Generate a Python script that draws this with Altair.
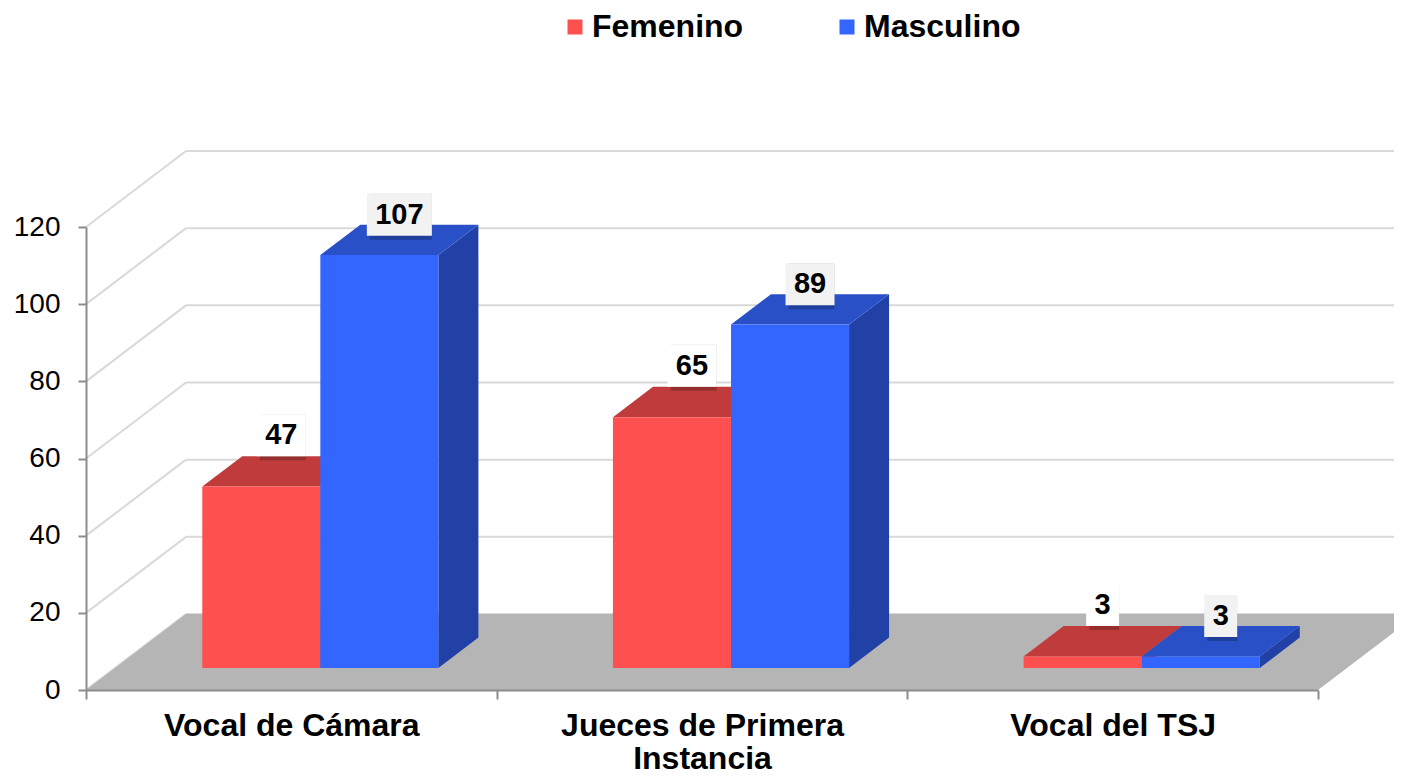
import json
import altair as alt
import pandas as pd

# ---------------- data ----------------
categories = ["Vocal de Cámara", "Jueces de Primera\nInstancia", "Vocal del TSJ"]
series = ["Femenino", "Masculino"]
femenino = [47, 65, 3]
masculino = [107, 89, 3]
y_ticks = [0, 20, 40, 60, 80, 100, 120]

# ---------------- layout / style constants ----------------
W, H = 1232, 463
X_MAX, Y_MAX = len(categories), 120
PX_X = W / X_MAX
PX_Y = H / Y_MAX
DEPTH_X = 100 / PX_X          # floor depth, in x units
DEPTH_Y = 76 / PX_Y           # floor depth, in y units
F0, F1 = 0.29, 0.69           # bar depth span (fraction of floor depth)
BAR_W = 0.2875                # bar width (category units)
FONT = "Liberation Sans, Arial, sans-serif"
front_colors = ["#FF5050", "#3366FF"]
top_colors = ["#C03C3C", "#2A50C8"]
side_colors = ["#A83232", "#2141A6"]
box_colors = ["#FFFFFF", "#F2F2F2"]
label_drop_px = [0, 11]
GRID = "#D9D9D9"
AXIS = "#8C8C8C"

values = [femenino, masculino]
front, top, side, boxes = [], [], [], []
for k, cat in enumerate(categories):
    for s, name in enumerate(series):
        v = values[s][k]
        bar = f"{k}-{s}"
        left = k + 0.5 + (s - 1) * BAR_W
        right = left + BAR_W
        front.append(dict(serie=name, bar=bar, x=left + F0 * DEPTH_X, x2=right + F0 * DEPTH_X,
                          y=F0 * DEPTH_Y, y2=v + F0 * DEPTH_Y))
        for f in (F0, F1):
            top.append(dict(bar=bar, fill=top_colors[s], y=v + f * DEPTH_Y,
                            x=left + f * DEPTH_X, x2=right + f * DEPTH_X))
            side.append(dict(bar=bar, fill=side_colors[s], x=right + f * DEPTH_X,
                             y=f * DEPTH_Y, y2=v + f * DEPTH_Y))
        cx = (left + right) / 2 + (F0 + F1) / 2 * DEPTH_X
        bw = (16 * len(str(v)) + 17) / PX_X
        bh = 42 / PX_Y
        yb = v + F1 * DEPTH_Y - label_drop_px[s] / PX_Y
        boxes.append(dict(bar=bar, fill=box_colors[s], x=cx - bw / 2, x2=cx + bw / 2,
                          y=yb, y2=yb + bh, ym=yb + bh / 2, cx=cx, text=str(v)))

front_df = pd.DataFrame(front)
top_df = pd.DataFrame(top)
side_df = pd.DataFrame(side)
box_df = pd.DataFrame(boxes)

grid_back = pd.DataFrame({"y": [t + DEPTH_Y for t in y_ticks],
                          "x": [DEPTH_X] * len(y_ticks),
                          "x2": [X_MAX + 0.4] * len(y_ticks)})
grid_diag = pd.DataFrame({"x": [0.0] * len(y_ticks), "x2": [DEPTH_X] * len(y_ticks),
                          "y": y_ticks, "y2": [t + DEPTH_Y for t in y_ticks]})
floor_df = pd.DataFrame({"y": [0, DEPTH_Y], "x": [0, DEPTH_X],
                         "x2": [X_MAX, X_MAX + DEPTH_X]})

xs = alt.Scale(domain=[0, X_MAX], nice=False, zero=False)
ys = alt.Scale(domain=[0, Y_MAX], nice=False, zero=False)

lines = [c.split("\n") for c in categories]
label_expr = json.dumps(lines, ensure_ascii=False) + "[floor(datum.value)]"

axis_ticks = alt.Axis(values=list(range(X_MAX + 1)), labels=False, ticks=True, tickSize=9,
                      tickColor=AXIS, tickWidth=2, domainColor=AXIS, domainWidth=2,
                      grid=False, title=None, orient="bottom", zindex=1)
axis_labels = alt.Axis(values=[k + 0.5 for k in range(X_MAX)], domain=False, ticks=False,
                       grid=False, title=None, orient="bottom", labelExpr=label_expr,
                       labelFontSize=32, labelFontWeight="bold", labelFont=FONT,
                       labelColor="black", labelPadding=20, labelLineHeight=33,
                       labelBaseline="top", labelFlush=False, labelOverlap=False,
                       labelLimit=500, zindex=1)
y_axis = alt.Axis(values=y_ticks, grid=False, title=None, orient="left",
                  domainColor=AXIS, domainWidth=2,
                  tickColor=AXIS, tickWidth=2, tickSize=8, labelFontSize=28,
                  labelFont=FONT, labelColor="black", labelPadding=18, zindex=1)

g_back = alt.Chart(grid_back).mark_rule(color=GRID, strokeWidth=2).encode(
    x=alt.X("x:Q", scale=xs, axis=axis_ticks), x2="x2:Q",
    y=alt.Y("y:Q", scale=ys, axis=y_axis))
g_diag = alt.Chart(grid_diag).mark_rule(color=GRID, strokeWidth=2).encode(
    x=alt.X("x:Q", scale=xs, axis=None), x2="x2:Q",
    y=alt.Y("y:Q", scale=ys, axis=None), y2="y2:Q")
floor = alt.Chart(floor_df).mark_area(orient="horizontal", color="#B5B5B5", opacity=1).encode(
    y=alt.Y("y:Q", scale=ys, axis=None),
    x=alt.X("x:Q", scale=xs, axis=axis_labels), x2="x2:Q")
sides = alt.Chart(side_df).mark_area(orient="vertical", opacity=1).encode(
    x=alt.X("x:Q", scale=xs, axis=None),
    y=alt.Y("y:Q", scale=ys, axis=None), y2="y2:Q",
    fill=alt.Fill("fill:N", scale=None), detail="bar:N")
tops = alt.Chart(top_df).mark_area(orient="horizontal", opacity=1).encode(
    y=alt.Y("y:Q", scale=ys, axis=None),
    x=alt.X("x:Q", scale=xs, axis=None), x2="x2:Q",
    fill=alt.Fill("fill:N", scale=None), detail="bar:N")
fronts = alt.Chart(front_df).mark_rect(opacity=1).encode(
    x=alt.X("x:Q", scale=xs, axis=None), x2="x2:Q",
    y=alt.Y("y:Q", scale=ys, axis=None), y2="y2:Q",
    color=alt.Color("serie:N", scale=alt.Scale(domain=series, range=front_colors),
                    legend=alt.Legend(title=None, orient="none", direction="horizontal",
                                      legendX=473, legendY=-216, symbolType="square",
                                      symbolSize=225, symbolStrokeWidth=0,
                                      labelFontSize=32, labelFontWeight="bold",
                                      labelFont=FONT, labelColor="black", labelOffset=1,
                                      columnPadding=87, padding=0, labelLimit=400)))
shadows = alt.Chart(box_df).mark_rect(color="black", opacity=0.22, xOffset=3, yOffset=4).encode(
    x=alt.X("x:Q", scale=xs, axis=None), x2="x2:Q",
    y=alt.Y("y:Q", scale=ys, axis=None), y2="y2:Q")
label_boxes = alt.Chart(box_df).mark_rect(opacity=1).encode(
    x=alt.X("x:Q", scale=xs, axis=None), x2="x2:Q",
    y=alt.Y("y:Q", scale=ys, axis=None), y2="y2:Q",
    fill=alt.Fill("fill:N", scale=None))
label_text = alt.Chart(box_df).mark_text(font=FONT, fontSize=29, fontWeight="bold",
                                         color="black", baseline="middle", align="center").encode(
    x=alt.X("cx:Q", scale=xs, axis=None),
    y=alt.Y("ym:Q", scale=ys, axis=None),
    text="text:N")

chart = alt.layer(g_back, g_diag, floor, sides, tops, fronts, shadows, label_boxes, label_text
                  ).resolve_axis(x="independent", y="independent").properties(
    width=W, height=H,
    padding={"left": 78, "top": 219, "right": 76, "bottom": 81},
    autosize=alt.AutoSizeParams(type="none"),
    background="white",
).configure_view(stroke=None)

chart.save("out.html", embed_options={"renderer": "svg", "actions": False})
